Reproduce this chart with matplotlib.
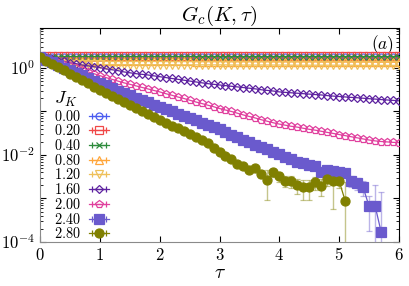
import numpy as np
import matplotlib
matplotlib.use("Agg")
import matplotlib.pyplot as plt
from matplotlib.ticker import LogLocator, NullFormatter, FuncFormatter

plt.rcParams['mathtext.fontset'] = 'cm'
plt.rcParams['font.family'] = ['DejaVu Serif']

# imaginary time grid, step 0.1
tau = np.round(np.linspace(0.0, 6.0, 61), 1)

jk_labels = ['0.00', '0.20', '0.40', '0.80', '1.20', '1.60', '2.00', '2.40', '2.80']

g_000 = [1.80, 1.83, 1.83, 1.83, 1.83, 1.83, 1.83, 1.83, 1.83, 1.83,
         1.83, 1.83, 1.83, 1.83, 1.83, 1.83, 1.83, 1.83, 1.83, 1.83,
         1.83, 1.83, 1.83, 1.83, 1.83, 1.83, 1.83, 1.83, 1.83, 1.83,
         1.83, 1.83, 1.83, 1.83, 1.83, 1.83, 1.83, 1.83, 1.83, 1.83,
         1.83, 1.83, 1.83, 1.83, 1.83, 1.83, 1.83, 1.83, 1.83, 1.83,
         1.83, 1.83, 1.83, 1.83, 1.83, 1.83, 1.83, 1.83, 1.83, 1.83, 1.83]
g_020 = [1.80, 1.84, 1.84, 1.84, 1.84, 1.84, 1.84, 1.84, 1.84, 1.84,
         1.84, 1.84, 1.84, 1.84, 1.84, 1.84, 1.84, 1.84, 1.84, 1.84,
         1.84, 1.84, 1.84, 1.84, 1.84, 1.84, 1.84, 1.84, 1.84, 1.84,
         1.84, 1.84, 1.84, 1.84, 1.84, 1.84, 1.84, 1.84, 1.84, 1.84,
         1.84, 1.84, 1.84, 1.84, 1.84, 1.84, 1.84, 1.84, 1.84, 1.84,
         1.84, 1.84, 1.84, 1.84, 1.84, 1.84, 1.84, 1.84, 1.84, 1.84, 1.84]
g_040 = [1.80, 1.82, 1.82, 1.82, 1.82, 1.82, 1.82, 1.82, 1.82, 1.82,
         1.82, 1.82, 1.82, 1.82, 1.82, 1.82, 1.82, 1.82, 1.82, 1.82,
         1.82, 1.82, 1.82, 1.82, 1.82, 1.82, 1.82, 1.82, 1.82, 1.82,
         1.82, 1.82, 1.82, 1.82, 1.82, 1.82, 1.82, 1.82, 1.82, 1.82,
         1.82, 1.82, 1.82, 1.82, 1.82, 1.82, 1.82, 1.82, 1.82, 1.82,
         1.82, 1.82, 1.82, 1.82, 1.82, 1.82, 1.82, 1.82, 1.82, 1.82, 1.82]
g_080 = [1.80, 1.62, 1.53, 1.49, 1.47, 1.46, 1.45, 1.45, 1.45, 1.44,
         1.44, 1.44, 1.43, 1.43, 1.43, 1.43, 1.42, 1.42, 1.42, 1.42,
         1.42, 1.41, 1.41, 1.41, 1.41, 1.41, 1.40, 1.40, 1.40, 1.40,
         1.40, 1.40, 1.39, 1.39, 1.39, 1.39, 1.39, 1.39, 1.39, 1.38,
         1.38, 1.38, 1.38, 1.38, 1.38, 1.38, 1.38, 1.37, 1.37, 1.37,
         1.37, 1.37, 1.37, 1.37, 1.37, 1.37, 1.36, 1.36, 1.36, 1.36, 1.36]
g_120 = [1.80, 1.45, 1.31, 1.26, 1.24, 1.23, 1.22, 1.22, 1.21, 1.21,
         1.21, 1.20, 1.20, 1.20, 1.20, 1.20, 1.19, 1.19, 1.19, 1.19,
         1.19, 1.19, 1.19, 1.18, 1.18, 1.18, 1.18, 1.18, 1.18, 1.18,
         1.18, 1.18, 1.17, 1.17, 1.17, 1.17, 1.17, 1.17, 1.17, 1.17,
         1.17, 1.17, 1.16, 1.16, 1.16, 1.16, 1.16, 1.16, 1.16, 1.16,
         1.16, 1.16, 1.16, 1.15, 1.15, 1.15, 1.15, 1.15, 1.15, 1.15, 1.15]
g_160 = [1.78, 1.66, 1.58, 1.48, 1.41, 1.32, 1.26, 1.17, 1.12, 1.07,
         1.02, 0.955, 0.912, 0.871, 0.813, 0.776, 0.741, 0.716, 0.692, 0.661,
         0.631, 0.603, 0.575, 0.550, 0.525, 0.501, 0.479, 0.457, 0.437, 0.422,
         0.407, 0.394, 0.380, 0.367, 0.355, 0.343, 0.331, 0.316, 0.305, 0.295,
         0.282, 0.275, 0.269, 0.263, 0.257, 0.251, 0.245, 0.240, 0.232, 0.226,
         0.221, 0.216, 0.211, 0.207, 0.202, 0.197, 0.193, 0.188, 0.184, 0.180, 0.176]
g_200 = [1.78, 1.62, 1.46, 1.32, 1.20, 1.10, 0.989, 0.891, 0.813, 0.741,
         0.668, 0.603, 0.550, 0.501, 0.457, 0.422, 0.389, 0.359, 0.331, 0.305,
         0.282, 0.257, 0.237, 0.216, 0.200, 0.182, 0.166, 0.153, 0.140, 0.129,
         0.117, 0.108, 0.100, 0.0912, 0.0832, 0.0767, 0.0708, 0.0646, 0.0596, 0.0550,
         0.0513, 0.0484, 0.0457, 0.0437, 0.0412, 0.0389, 0.0372, 0.0351, 0.0331, 0.0313,
         0.0295, 0.0279, 0.0263, 0.0248, 0.0234, 0.0221, 0.0211, 0.0204, 0.0200, 0.0195, 0.0193]
# 2.40 and 2.80 turn negative at large tau, so they stop early
g_240 = [1.78, 1.55, 1.35, 1.17, 1.02, 0.891, 0.776, 0.676, 0.589, 0.513,
         0.452, 0.398, 0.347, 0.302, 0.266, 0.234, 0.207, 0.182, 0.162, 0.143,
         0.126, 0.112, 0.100, 0.0891, 0.0794, 0.0708, 0.0631, 0.0556, 0.0490, 0.0437,
         0.0389, 0.0339, 0.0295, 0.0257, 0.0226, 0.0200, 0.0174, 0.0151, 0.0135, 0.0120,
         0.0105, 0.00891, 0.00794, 0.00708, 0.00646, 0.00603, 0.00550, 0.00398, 0.00457, 0.00437,
         0.00417, 0.00389, 0.00257, 0.00224, 0.00182, 0.00066, 0.00068, 0.000174]
e_240 = [0, 0, 0, 0, 0, 0, 0, 0, 0, 0,
         0, 0, 0, 0, 0, 0, 0, 0, 0, 0,
         0, 0, 0, 0, 0, 0, 0, 0, 0, 0,
         0.0002, 0.0002, 0.0002, 0.0002, 0.0002, 0.0002, 0.0002, 0.0002, 0.0002, 0.0003,
         0.0003, 0.0003, 0.0004, 0.0004, 0.0004, 0.0005, 0.0005, 0.0006, 0.0005, 0.0005,
         0.0005, 0.0006, 0.0007, 0.0007, 0.0007, 0.00048, 0.0014, 0.0012]
g_280 = [1.78, 1.48, 1.24, 1.05, 0.881, 0.741, 0.624, 0.525, 0.442, 0.372,
         0.316, 0.266, 0.226, 0.191, 0.162, 0.138, 0.119, 0.102, 0.0871, 0.0750,
         0.0646, 0.0550, 0.0473, 0.0407, 0.0347, 0.0299, 0.0257, 0.0219, 0.0186, 0.0148,
         0.0117, 0.00955, 0.00813, 0.00617, 0.00562, 0.00457, 0.00490, 0.00363, 0.00269, 0.00398,
         0.00324, 0.00251, 0.00257, 0.00204, 0.00182, 0.00182, 0.00234, 0.00195, 0.00282, 0.00257,
         0.00251, 0.00089]
e_280 = [0, 0, 0, 0, 0, 0, 0, 0, 0, 0,
         0, 0, 0, 0, 0, 0, 0, 0, 0, 0,
         0, 0, 0, 0, 0, 0, 0, 0, 0, 0.0002,
         0.0002, 0.0002, 0.0003, 0.0004, 0.0005, 0.0008, 0.0006, 0.0007, 0.00177, 0.0008,
         0.0008, 0.0007, 0.0008, 0.0008, 0.0009, 0.0009, 0.0008, 0.0008, 0.0009, 0.002,
         0.0008, 0.0015]

series = [g_000, g_020, g_040, g_080, g_120, g_160, g_200, g_240, g_280]
errors = [None, None, None, None, None, None, None, e_240, e_280]
colors = ['#4a5cf0', '#f04848', '#2e8b3c', '#ffa63a', '#eec05a',
          '#5e23a0', '#e0409e', '#6a5acd', '#808000']
markers = ['o', 's', 'x', '^', 'v', 'D', 'p', 's', 'o']
filled = [False, False, False, False, False, False, False, True, True]
msizes = [5, 5.5, 5, 5.5, 5.5, 4.5, 5.5, 6.5, 6.5]

fig = plt.figure(figsize=(4.09, 2.86), dpi=100)
ax = fig.add_axes([40 / 409, 1 - 242 / 286, 359 / 409, 214 / 286])
ax.set_yscale('log')

handles = []
for i in range(len(series)):
    y = np.array(series[i])
    x = tau[:len(y)]
    c = colors[i]
    fc = c if filled[i] else 'none'
    ec = matplotlib.colors.to_rgba(c, 0.45)
    ax.errorbar(x, y, yerr=errors[i], fmt='-', marker=markers[i], color=c,
                mfc=fc, mec=c, ms=msizes[i], mew=0.9, lw=0.9,
                ecolor=ec, elinewidth=1.0, capsize=2.5, capthick=1.0, zorder=3 + i * 0.1)
    h = ax.errorbar([np.nan], [np.nan], xerr=[1.0], fmt='-', marker=markers[i], color=c,
                    mfc=fc, mec=c, ms=msizes[i], mew=0.9, lw=0.9,
                    ecolor=c, elinewidth=0.9, capsize=2.5, capthick=0.9)
    handles.append(h)

ax.set_xlim(0, 6)
ax.set_ylim(1e-4, 8.3)

ax.set_xticks([0, 1, 2, 3, 4, 5, 6])
ax.set_xticklabels(['$%d$' % t for t in range(7)], fontsize=12)
ax.yaxis.set_major_locator(LogLocator(base=10, numticks=10))
ax.yaxis.set_minor_locator(LogLocator(base=10, subs=np.arange(2, 10), numticks=20))
ax.yaxis.set_minor_formatter(NullFormatter())


def ylab(v, pos):
    e = int(round(np.log10(v)))
    if e % 2 == 0:
        return '$10^{%d}$' % e
    return ''


ax.yaxis.set_major_formatter(FuncFormatter(ylab))
ax.tick_params(axis='y', which='major', labelsize=12)
ax.tick_params(which='both', direction='in', top=True, right=True)
ax.tick_params(which='major', length=4, width=0.8)
ax.tick_params(which='minor', length=2, width=0.6)

ax.spines['left'].set_color('#8a8a8a')
ax.spines['bottom'].set_color('#8a8a8a')

ax.set_title(r'$G_c(K,\tau)$', fontsize=15, pad=5)
ax.set_xlabel(r'$\tau$', fontsize=14, labelpad=0)
ax.text(0.985, 0.975, r'$(a)$', transform=ax.transAxes, ha='right', va='top', fontsize=12.5)

leg = ax.legend(handles, ['$%s$' % s for s in jk_labels], title=r'$J_K$',
                loc='lower left', bbox_to_anchor=(0.015, -0.037), frameon=False,
                markerfirst=False, fontsize=10.3, title_fontsize=13,
                handlelength=1.4, handletextpad=0.6, labelspacing=-0.02,
                borderaxespad=0.2)
leg._legend_box.align = 'left'

fig.savefig('out.png', dpi=100)
